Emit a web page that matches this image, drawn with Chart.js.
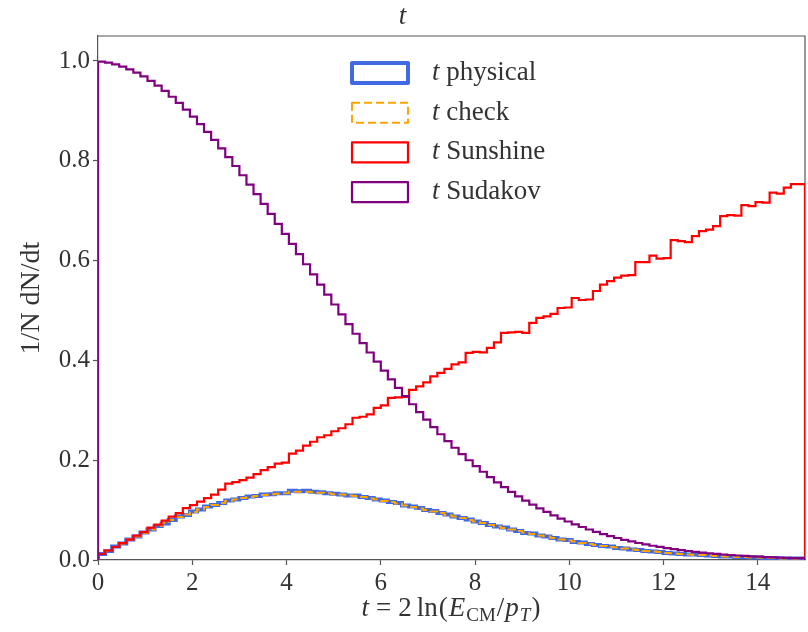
<!DOCTYPE html>
<html>
<head>
<meta charset="utf-8">
<script src="https://cdn.jsdelivr.net/npm/chart.js@4.4.0/dist/chart.umd.min.js"></script>
<style>
  html, body { margin: 0; padding: 0; background: #fff; }
</style>
</head>
<body>
<canvas id="tChart" width="808" height="632"></canvas>
<script>
"use strict";

// histogram range in t, 100 equal bins
const tMin = 0;
const tMax = 15;

const xTickValues = [0, 2, 4, 6, 8, 10, 12, 14];
const yTickValues = [0.0, 0.2, 0.4, 0.6, 0.8, 1.0];

const physical = [
    0.005, 0.012, 0.018, 0.027, 0.033, 0.041, 0.047, 0.055, 0.061, 0.068,
    0.073, 0.080, 0.087, 0.090, 0.097, 0.101, 0.107, 0.110, 0.114, 0.119,
    0.121, 0.124, 0.127, 0.128, 0.131, 0.132, 0.134, 0.134, 0.139, 0.138,
    0.139, 0.137, 0.136, 0.134, 0.133, 0.131, 0.129, 0.129, 0.126, 0.124,
    0.121, 0.119, 0.116, 0.114, 0.109, 0.107, 0.104, 0.100, 0.098, 0.094,
    0.091, 0.087, 0.084, 0.081, 0.077, 0.074, 0.070, 0.067, 0.065, 0.061,
    0.058, 0.054, 0.053, 0.049, 0.047, 0.044, 0.041, 0.040, 0.036, 0.035,
    0.032, 0.030, 0.028, 0.027, 0.024, 0.023, 0.021, 0.020, 0.018, 0.017,
    0.016, 0.014, 0.013, 0.012, 0.011, 0.011, 0.010, 0.009, 0.008, 0.007,
    0.007, 0.006, 0.006, 0.005, 0.005, 0.004, 0.004, 0.003, 0.003, 0.003
];

const check = [
    0.005, 0.012, 0.019, 0.026, 0.033, 0.041, 0.047, 0.054, 0.061, 0.068,
    0.074, 0.080, 0.086, 0.091, 0.096, 0.101, 0.106, 0.110, 0.114, 0.118,
    0.121, 0.124, 0.126, 0.128, 0.130, 0.132, 0.133, 0.134, 0.137, 0.137,
    0.137, 0.136, 0.135, 0.134, 0.132, 0.131, 0.129, 0.128, 0.126, 0.123,
    0.121, 0.118, 0.116, 0.113, 0.109, 0.106, 0.103, 0.100, 0.097, 0.094,
    0.090, 0.087, 0.084, 0.080, 0.077, 0.074, 0.070, 0.067, 0.064, 0.061,
    0.058, 0.055, 0.052, 0.049, 0.047, 0.044, 0.041, 0.039, 0.037, 0.034,
    0.032, 0.030, 0.028, 0.026, 0.025, 0.023, 0.021, 0.020, 0.018, 0.017,
    0.016, 0.014, 0.013, 0.012, 0.011, 0.010, 0.010, 0.009, 0.008, 0.007,
    0.007, 0.006, 0.006, 0.005, 0.005, 0.004, 0.004, 0.003, 0.003, 0.003
];

const sunshine = [
    0.006, 0.012, 0.019, 0.026, 0.034, 0.041, 0.049, 0.056, 0.065, 0.071,
    0.079, 0.087, 0.094, 0.104, 0.110, 0.117, 0.124, 0.131, 0.141, 0.153,
    0.156, 0.160, 0.165, 0.172, 0.180, 0.186, 0.193, 0.195, 0.213, 0.219,
    0.229, 0.237, 0.246, 0.250, 0.258, 0.264, 0.272, 0.285, 0.287, 0.292,
    0.305, 0.310, 0.325, 0.326, 0.327, 0.341, 0.348, 0.356, 0.368, 0.375,
    0.383, 0.392, 0.396, 0.415, 0.417, 0.416, 0.425, 0.436, 0.455, 0.456,
    0.457, 0.455, 0.475, 0.485, 0.488, 0.493, 0.505, 0.506, 0.525, 0.521,
    0.522, 0.539, 0.552, 0.559, 0.566, 0.570, 0.571, 0.597, 0.597, 0.610,
    0.604, 0.605, 0.641, 0.639, 0.637, 0.649, 0.659, 0.662, 0.669, 0.689,
    0.691, 0.690, 0.711, 0.709, 0.717, 0.716, 0.736, 0.734, 0.746, 0.753
];

const sudakov = [
    0.9999, 0.9987, 0.9965, 0.9931, 0.9887, 0.9831, 0.9765, 0.9689, 0.9602, 0.9505,
    0.9399, 0.9283, 0.9159, 0.9026, 0.8885, 0.8736, 0.8580, 0.8418, 0.8249, 0.8074,
    0.7895, 0.7710, 0.7522, 0.7330, 0.7135, 0.6937, 0.6737, 0.6535, 0.6333, 0.6129,
    0.5926, 0.5723, 0.5520, 0.5319, 0.5120, 0.4922, 0.4727, 0.4534, 0.4344, 0.4158,
    0.3975, 0.3796, 0.3620, 0.3449, 0.3283, 0.3121, 0.2963, 0.2811, 0.2663, 0.2520,
    0.2382, 0.2249, 0.2122, 0.1999, 0.1881, 0.1768, 0.1660, 0.1557, 0.1459, 0.1365,
    0.1276, 0.1191, 0.1111, 0.1035, 0.0963, 0.0895, 0.0831, 0.0771, 0.0714, 0.0661,
    0.0611, 0.0564, 0.0520, 0.0479, 0.0441, 0.0405, 0.0372, 0.0341, 0.0312, 0.0286,
    0.0261, 0.0238, 0.0217, 0.0198, 0.0180, 0.0164, 0.0149, 0.0135, 0.0122, 0.0110,
    0.0100, 0.0090, 0.0081, 0.0073, 0.0066, 0.0059, 0.0053, 0.0048, 0.0043, 0.0038
];

const FONT = '"Liberation Serif", "DejaVu Serif", serif';
const TEXT = '#333333';
const SPINE = '#555555';

/**
 * Turns bin contents into step outline points (like histtype='step'),
 * dropping to zero at both outer edges.
 * @param {number[]} values
 */
function stepPoints(values) {
    const w = (tMax - tMin) / values.length;
    const pts = [{ x: tMin, y: 0 }];
    values.forEach((v, i) => pts.push({ x: tMin + i * w, y: v }));
    pts.push({ x: tMax, y: values[values.length - 1] });
    pts.push({ x: tMax, y: 0 });
    return pts;
}

//top and right spines, under the histograms
const framePlugin = {
    id: 'frame',
    beforeDatasetsDraw(chart) {
        const { ctx, chartArea: a } = chart;
        ctx.save();
        ctx.strokeStyle = SPINE;
        ctx.lineWidth = 1.2;
        ctx.beginPath();
        ctx.moveTo(a.left, a.top);
        ctx.lineTo(a.right, a.top);
        ctx.lineTo(a.right, a.bottom);
        ctx.stroke();
        ctx.restore();
    }
};

//legend with hollow patches, first letter of each label in italic
const legendPlugin = {
    id: 'stepLegend',
    afterDraw(chart) {
        const ctx = chart.ctx;
        const boxX = 352, boxW = 56, boxH = 20, textX = 432;
        ctx.save();
        chart.data.datasets.forEach((ds, i) => {
            const cy = 73 + i * 39.7;
            ctx.strokeStyle = ds.borderColor;
            ctx.lineWidth = ds.borderWidth;
            ctx.setLineDash(ds.borderDash || []);
            ctx.lineJoin = 'round';
            ctx.strokeRect(boxX, cy - boxH / 2, boxW, boxH);
            ctx.setLineDash([]);

            ctx.fillStyle = TEXT;
            ctx.textBaseline = 'middle';
            ctx.textAlign = 'left';
            ctx.font = 'italic 27px ' + FONT;
            const head = ds.label.slice(0, 1);
            ctx.fillText(head, textX, cy);
            const w = ctx.measureText(head + ' ').width;
            ctx.font = '27px ' + FONT;
            ctx.fillText(ds.label.slice(2), textX + w, cy);
        });
        ctx.restore();
    }
};

//x axis title with sub-scripts: t = 2 ln(E_CM / p_T)
const xTitlePlugin = {
    id: 'xTitle',
    afterDraw(chart) {
        const ctx = chart.ctx;
        const a = chart.chartArea;
        const parts = [
            { s: 't', it: true, after: 6 },
            { s: '=', after: 6 },
            { s: '2', after: 4 },
            { s: 'ln' },
            { s: '(' },
            { s: 'E', it: true },
            { s: 'CM', sub: true },
            { s: '/' },
            { s: 'p', it: true },
            { s: 'T', it: true, sub: true },
            { s: ')' }
        ];
        const fontFor = p => (p.it ? 'italic ' : '') + (p.sub ? '19px ' : '27px ') + FONT;
        ctx.save();
        ctx.fillStyle = TEXT;
        ctx.textBaseline = 'alphabetic';
        ctx.textAlign = 'left';
        let total = 0;
        parts.forEach(p => {
            ctx.font = fontFor(p);
            total += ctx.measureText(p.s).width + (p.after || 0) + 1;
        });
        let x = (a.left + a.right) / 2 - total / 2;
        const base = 616;
        parts.forEach(p => {
            ctx.font = fontFor(p);
            ctx.fillText(p.s, x, p.sub ? base + 5 : base);
            x += ctx.measureText(p.s).width + (p.after || 0) + 1;
        });
        ctx.restore();
    }
};

const ctx = document.getElementById('tChart').getContext('2d');
const tChart = new Chart(ctx, {
    type: 'line',
    data: {
        datasets: [
            {
                label: 't physical',
                data: stepPoints(physical),
                borderColor: '#4169e1',
                borderWidth: 4,
                order: 3
            },
            {
                label: 't check',
                data: stepPoints(check),
                borderColor: '#ffa500',
                borderWidth: 2,
                borderDash: [8, 4],
                order: 2
            },
            {
                label: 't Sunshine',
                data: stepPoints(sunshine),
                borderColor: '#ff0000',
                borderWidth: 2.2,
                order: 1
            },
            {
                label: 't Sudakov',
                data: stepPoints(sudakov),
                borderColor: '#800080',
                borderWidth: 2.2,
                order: 0
            }
        ]
    },
    options: {
        responsive: false,
        animation: false,
        elements: {
            point: { radius: 0 },
            line: { stepped: 'after', fill: false, tension: 0 }
        },
        layout: { padding: { top: 0, right: 3, bottom: 0, left: 0 } },
        plugins: {
            legend: { display: false },
            tooltip: { enabled: false },
            title: {
                display: true,
                text: 't',
                color: TEXT,
                font: { family: FONT, size: 27, style: 'italic', weight: 'normal' },
                padding: { top: 1, bottom: 2.6 }
            }
        },
        scales: {
            x: {
                type: 'linear',
                min: tMin,
                max: tMax,
                afterBuildTicks: scale => { scale.ticks = xTickValues.map(v => ({ value: v })); },
                afterFit: scale => { scale.height = 72; },
                ticks: {
                    color: TEXT,
                    padding: 3,
                    maxRotation: 0,
                    font: { family: FONT, size: 25 }
                },
                grid: { drawOnChartArea: false, tickLength: 5, tickColor: SPINE, tickWidth: 1.2 },
                border: { color: SPINE, width: 1.2 }
            },
            y: {
                type: 'linear',
                min: 0,
                max: 1.05,
                afterBuildTicks: scale => { scale.ticks = yTickValues.map(v => ({ value: v })); },
                afterFit: scale => { scale.width = 98; },
                ticks: {
                    color: TEXT,
                    padding: 3,
                    font: { family: FONT, size: 25 },
                    callback: v => v.toFixed(1)
                },
                grid: { drawOnChartArea: false, tickLength: 5, tickColor: SPINE, tickWidth: 1.2 },
                border: { color: SPINE, width: 1.2 },
                title: {
                    display: true,
                    text: '1/N dN/dt',
                    color: TEXT,
                    font: { family: FONT, size: 28 },
                    padding: { top: 15, bottom: 0 }
                }
            }
        }
    },
    plugins: [framePlugin, legendPlugin, xTitlePlugin]
});
</script>
</body>
</html>
